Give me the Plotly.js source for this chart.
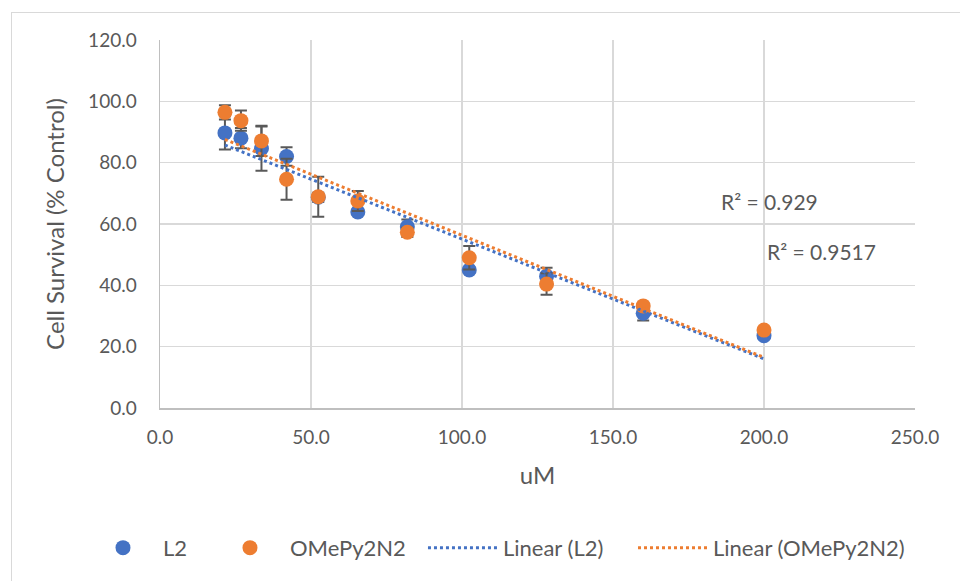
<!DOCTYPE html>
<html>
<head>
<meta charset="utf-8">
<script src="https://cdn.plot.ly/plotly-3.0.1.min.js"></script>
<style>
html,body{margin:0;padding:0;background:#fff;}
#wrap{position:relative;width:960px;height:581px;}
#chart{width:960px;height:581px;}
#frame{position:absolute;left:11px;top:12px;right:0;bottom:0;border-left:1px solid #D9D9D9;border-top:1px solid #D9D9D9;pointer-events:none;}
</style>
</head>
<body>
<div id="wrap"><div id="chart"></div><div id="frame"></div></div>
<script>
// concentrations (uM)
const conc = [21.5, 26.8, 33.6, 41.9, 52.4, 65.5, 81.9, 102.4, 128, 160, 200];
// L2 cell survival (% control) and error
const l2 = [89.7, 88.0, 84.6, 82.0, 68.7, 63.9, 59.1, 45.0, 43.0, 30.9, 23.6];
const l2Err = [5.4, 3.3, 7.2, 3.0, 1.5, 1.0, 2.4, 1.0, 2.7, 2.4, 1.0];
// OMePy2N2 cell survival (% control) and error
const ome = [96.4, 93.7, 87.1, 74.6, 68.9, 67.5, 57.3, 49.0, 40.4, 33.3, 25.4];
const omeErr = [2.3, 3.3, 4.9, 6.7, 6.5, 3.3, 1.5, 3.8, 3.5, 1.0, 1.0];
// series names and R² labels
const names = ["L2", "OMePy2N2", "Linear (L2)", "Linear (OMePy2N2)"];
const r2Labels = ["R² = 0.929", "R² = 0.9517"];
const xTicks = [0, 50, 100, 150, 200, 250];
const yTicks = [0, 20, 40, 60, 80, 100, 120];

function linfit(xs, ys) {
  const n = xs.length;
  const mx = xs.reduce((a, b) => a + b, 0) / n;
  const my = ys.reduce((a, b) => a + b, 0) / n;
  let sxy = 0, sxx = 0;
  for (let i = 0; i < n; i++) { sxy += (xs[i] - mx) * (ys[i] - my); sxx += (xs[i] - mx) ** 2; }
  const m = sxy / sxx, b = my - m * mx;
  const x0 = Math.min(...xs), x1 = Math.max(...xs);
  return { x: [x0, x1], y: [m * x0 + b, m * x1 + b] };
}
const f1 = linfit(conc, l2);
const f2 = linfit(conc, ome);

const BLUE = "#4472C4", ORANGE = "#ED7D31", ERR = "#595959", TXT = "#595959";
const FONT = "Lato, 'Open Sans', sans-serif";

const traces = [
  { x: conc, y: l2, type: "scatter", mode: "markers", name: names[0], legend: "legend",
    marker: { color: BLUE, size: 15 },
    error_y: { type: "data", array: l2Err, visible: true, color: ERR, thickness: 2, width: 6 } },
  { x: conc, y: ome, type: "scatter", mode: "markers", name: names[1], legend: "legend2",
    marker: { color: ORANGE, size: 15 },
    error_y: { type: "data", array: omeErr, visible: true, color: ERR, thickness: 2, width: 6 } },
  { x: f1.x, y: f1.y, type: "scatter", mode: "lines", name: names[2], legend: "legend3",
    line: { color: BLUE, width: 3, dash: "dot" } },
  { x: f2.x, y: f2.y, type: "scatter", mode: "lines", name: names[3], legend: "legend4",
    line: { color: ORANGE, width: 3, dash: "dot" } }
];

function leg(x) {
  return { orientation: "h", x: x, xanchor: "left", y: -0.38, yanchor: "middle",
    itemwidth: 70, bgcolor: "rgba(0,0,0,0)",
    font: { family: FONT, size: 22, color: TXT } };
}

const layout = {
  width: 960, height: 581,
  margin: { l: 160, r: 45, t: 40, b: 173 },
  paper_bgcolor: "#fff", plot_bgcolor: "#fff",
  font: { family: FONT, size: 19, color: TXT },
  showlegend: true,
  legend: leg(-0.102),
  legend2: leg(0.0662),
  legend3: leg(0.3483),
  legend4: leg(0.6265),
  xaxis: {
    range: [0, 250], tickvals: xTicks, ticktext: xTicks.map(v => v.toFixed(1)),
    showgrid: true, gridcolor: "#D9D9D9", gridwidth: 1.5,
    showline: true, linecolor: "#BFBFBF", linewidth: 1.5, zeroline: false,
    ticks: "", ticklabelstandoff: 12,
    tickfont: { family: FONT, size: 19, color: TXT },
    title: { text: "uM", font: { family: FONT, size: 24, color: TXT }, standoff: 20 }
  },
  yaxis: {
    range: [0, 120], tickvals: yTicks, ticktext: yTicks.map(v => v.toFixed(1)),
    showgrid: true, gridcolor: "#D9D9D9", gridwidth: 1.5,
    showline: true, linecolor: "#BFBFBF", linewidth: 1.5, zeroline: false,
    ticks: "", ticklabelstandoff: 18,
    tickfont: { family: FONT, size: 19, color: TXT },
    title: { text: "Cell Survival (% Control)", font: { family: FONT, size: 24, color: TXT }, standoff: 16 }
  },
  annotations: [
    { x: 201.7, y: 67.2, xref: "x", yref: "y", text: r2Labels[0], showarrow: false,
      font: { family: FONT, size: 21, color: TXT } },
    { x: 219, y: 50.9, xref: "x", yref: "y", text: r2Labels[1], showarrow: false,
      font: { family: FONT, size: 21, color: TXT } }
  ]
};

Plotly.newPlot("chart", traces, layout, { staticPlot: true, displayModeBar: false });
</script>
</body>
</html>
